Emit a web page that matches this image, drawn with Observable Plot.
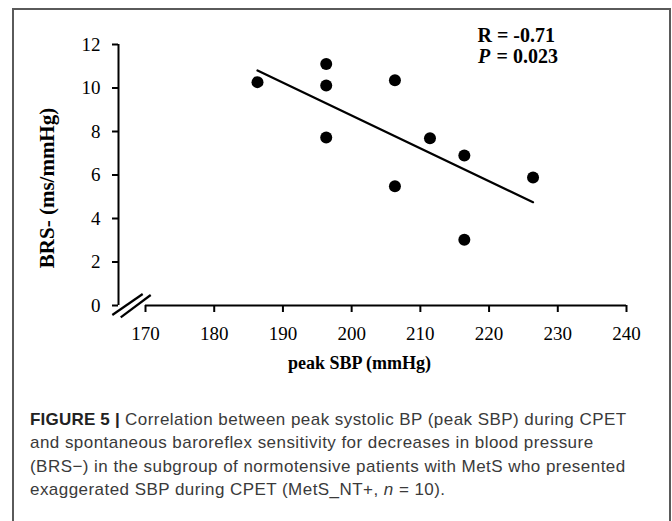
<!DOCTYPE html>
<html><head><meta charset="utf-8">
<script src="https://cdn.jsdelivr.net/npm/d3@7"></script>
<script src="https://cdn.jsdelivr.net/npm/@observablehq/plot@0.6"></script>
<style>
html,body{margin:0;padding:0;background:#fff;}
body{width:672px;height:521px;overflow:hidden;position:relative;}
#frame{position:absolute;left:12px;top:8px;width:659px;height:540px;border:2px solid #5a5a5a;border-bottom:none;box-sizing:border-box;}
#chart{position:absolute;left:0;top:0;}
#caption{position:absolute;left:30px;top:408px;font-family:"Liberation Sans",Arial,sans-serif;font-size:17px;letter-spacing:0.45px;line-height:23.4px;color:#3a3a3a;white-space:nowrap;}
#caption b{color:#222;letter-spacing:0.2px;}
</style></head><body>
<div id="frame"></div>
<div id="chart"></div>
<div id="caption"><b>FIGURE 5 |</b> Correlation between peak systolic BP (peak SBP) during CPET<br>and spontaneous baroreflex sensitivity for decreases in blood pressure<br>(BRS&minus;) in the subgroup of normotensive patients with MetS who presented<br>exaggerated SBP during CPET (MetS_NT+, <i>n</i> = 10).</div>
<script>
// Data
const peakSBP = [186.3, 196.3, 196.3, 196.3, 206.3, 206.3, 211.4, 216.4, 216.4, 226.4];
const brsMinus = [10.27, 11.10, 10.12, 7.72, 10.36, 5.48, 7.69, 6.90, 3.02, 5.88];
const xTicks = [170, 180, 190, 200, 210, 220, 230, 240];
const yTicks = [0, 2, 4, 6, 8, 10, 12];
const xTitle = "peak SBP (mmHg)";
const yTitle = "BRS- (ms/mmHg)";
const rLabel = "R = -0.71";
const pLabel = "P";
const pValue = "= 0.023";
const xMin = 166.07; // axis break: y-axis sits left of 170

const points = peakSBP.map((x, i) => ({x, y: brsMinus[i]}));
const serif = "'Liberation Serif','Times New Roman',serif";

function breakMarks(index, scales) {
  const x0 = scales.x(xTicks[0]), y0 = scales.y(yTicks[0]);
  const g = d3.create("svg:g").attr("stroke", "black").attr("stroke-width", 2.2).attr("fill", "none");
  [[-32.7, 10, -2.3, -11], [-24.3, 12.3, 5.7, -10]].forEach(([a, b, c, d]) => {
    g.append("line").attr("x1", x0 + a).attr("y1", y0 + b).attr("x2", x0 + c).attr("y2", y0 + d);
  });
  return g.node();
}

const chart = Plot.plot({
  width: 672,
  height: 380,
  marginLeft: 118,
  marginRight: 46,
  marginTop: 44,
  marginBottom: 75,
  style: {fontFamily: serif, color: "black", background: "transparent", overflow: "visible"},
  x: {domain: [xMin, xTicks[xTicks.length - 1]]},
  y: {domain: [yTicks[0], yTicks[yTicks.length - 1]]},
  marks: [
    Plot.ruleX([xMin], {y1: yTicks[0], y2: yTicks[yTicks.length - 1], stroke: "black", strokeWidth: 2}),
    Plot.ruleY([yTicks[0]], {x1: xTicks[0], x2: xTicks[xTicks.length - 1], stroke: "black", strokeWidth: 2}),
    Plot.axisY(yTicks, {tickSize: 6, tickPadding: 12, fontSize: 19, label: null, strokeWidth: 2}),
    Plot.axisX(xTicks, {tickSize: 7, tickPadding: 14, fontSize: 19, label: null, strokeWidth: 2}),
    breakMarks,
    Plot.linearRegressionY(points, {x: "x", y: "y", stroke: "black", strokeWidth: 2.2, ci: 0}),
    Plot.dot(points, {x: "x", y: "y", r: 6, fill: "black", stroke: "none"}),
    Plot.text([yTitle], {frameAnchor: "left", rotate: -90, textAnchor: "middle", lineAnchor: "middle", dx: -71, dy: 13, fontSize: 21, fontWeight: "bold"}),
    Plot.text([xTitle], {frameAnchor: "bottom", textAnchor: "middle", lineAnchor: "bottom", dx: -13, dy: 63, fontSize: 18, fontWeight: "bold"}),
    Plot.text([rLabel], {frameAnchor: "top-right", textAnchor: "start", lineAnchor: "bottom", dx: -149, dy: -3, fontSize: 20, fontWeight: "bold"}),
    Plot.text([pLabel], {frameAnchor: "top-right", textAnchor: "start", lineAnchor: "bottom", dx: -148.5, dy: 18.3, fontSize: 20, fontWeight: "bold", fontStyle: "italic"}),
    Plot.text([pValue], {frameAnchor: "top-right", textAnchor: "start", lineAnchor: "bottom", dx: -130, dy: 18.3, fontSize: 20, fontWeight: "bold"})
  ]
});
document.getElementById("chart").appendChild(chart);
</script>
</body></html>
